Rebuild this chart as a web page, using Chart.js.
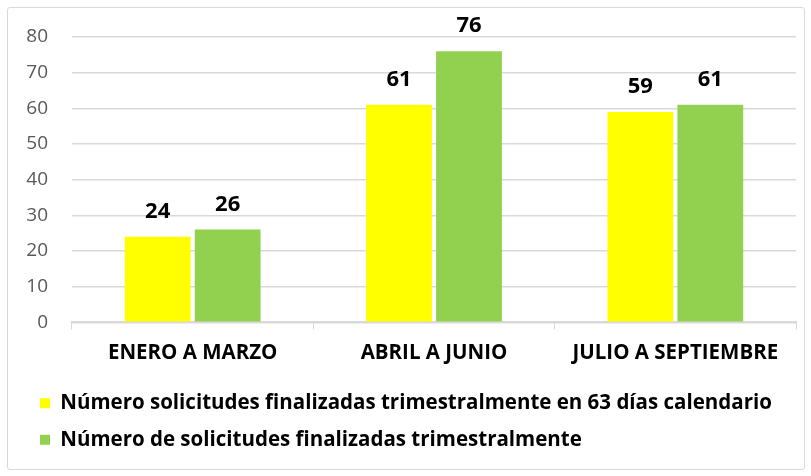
<!DOCTYPE html>
<html><head><meta charset="utf-8">
<script src="https://cdn.jsdelivr.net/npm/chart.js@4.4.0/dist/chart.umd.min.js"></script>
<style>
html,body{margin:0;padding:0;background:#fff;}
#wrap{position:relative;width:811px;height:476px;}
#frame{position:absolute;left:7px;top:7px;width:796px;height:461px;border:1px solid #d9d9d9;border-radius:3px;pointer-events:none;}
canvas{position:absolute;left:0;top:0;}
</style></head>
<body><div id="wrap"><canvas id="c" width="811" height="476"></canvas><div id="frame"></div></div>
<script>
const categories = ["ENERO A MARZO", "ABRIL A JUNIO", "JULIO A SEPTIEMBRE"];
const seriesNames = ["Número solicitudes finalizadas trimestralmente en 63 días calendario", "Número de solicitudes finalizadas trimestralmente"];
const finalizadas63 = [24, 61, 59];
const finalizadasTotal = [26, 76, 61];
const yTicks = [0, 10, 20, 30, 40, 50, 60, 70, 80];

const FONT = "'Open Sans', sans-serif";

const valueLabels = {
  id: 'valueLabels',
  afterDatasetsDraw(chart) {
    const ctx = chart.ctx;
    ctx.save();
    ctx.font = "bold 22px " + FONT;
    ctx.fillStyle = "#000";
    ctx.textAlign = "center";
    ctx.textBaseline = "alphabetic";
    chart.data.datasets.forEach((ds, i) => {
      const meta = chart.getDatasetMeta(i);
      meta.data.forEach((bar, j) => {
        ctx.fillText(String(ds.data[j]), bar.x, bar.y - 19);
      });
    });
    ctx.restore();
  }
};

new Chart(document.getElementById('c'), {
  type: 'bar',
  data: {
    labels: categories,
    datasets: [
      { label: seriesNames[0], data: finalizadas63, backgroundColor: '#FFFF00', borderWidth: 0, categoryPercentage: 0.58, barPercentage: 0.94 },
      { label: seriesNames[1], data: finalizadasTotal, backgroundColor: '#92D050', borderWidth: 0, categoryPercentage: 0.58, barPercentage: 0.94 }
    ]
  },
  options: {
    responsive: false,
    animation: false,
    devicePixelRatio: 1,
    layout: { padding: { left: 24, right: 15, top: 37, bottom: 16 } },
    plugins: {
      legend: {
        position: 'bottom',
        align: 'start',
        labels: {
          boxWidth: 10, boxHeight: 10, padding: 16,
          color: '#000',
          font: { family: FONT, size: 20.5, weight: 'bold' }
        }
      },
      tooltip: { enabled: false },
      title: { display: false }
    },
    scales: {
      x: {
        grid: { display: true, drawOnChartArea: false, drawTicks: true, tickLength: 7, color: '#d9d9d9', offset: true },
        border: { display: true, color: '#d9d9d9', width: 2 },
        ticks: { color: '#000', font: { family: FONT, size: 20.5, weight: 'bold', lineHeight: 0.86 }, padding: 15 }
      },
      y: {
        min: 0, max: 80,
        afterBuildTicks(axis) { axis.ticks = yTicks.map(v => ({ value: v })); },
        afterFit(axis) { axis.width = 48; },
        grid: { color: '#d9d9d9', lineWidth: 1.5, drawTicks: false },
        border: { display: false },
        ticks: { color: '#595959', font: { family: FONT, size: 19 }, padding: 24 }
      }
    }
  },
  plugins: [valueLabels]
});
</script>
</body></html>
